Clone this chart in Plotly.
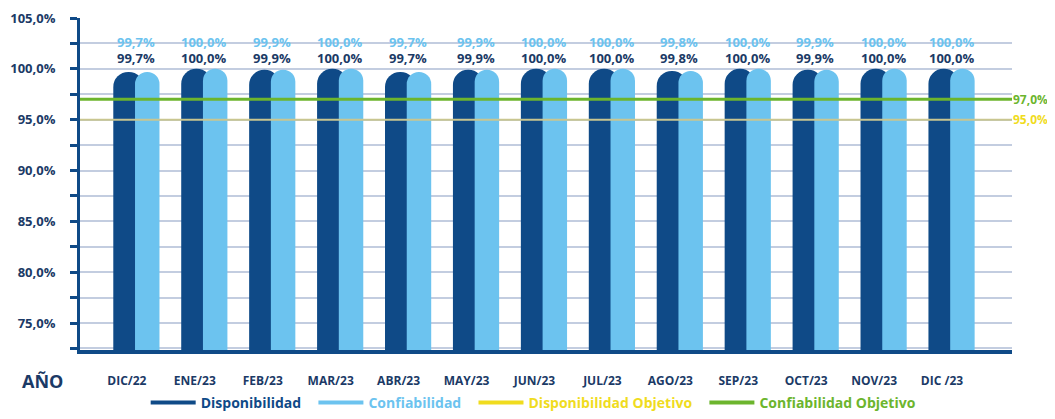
import plotly.graph_objects as go

NAVY = "#0f4a87"
LIGHT = "#6cc3ef"
YELLOW = "#f0dc1e"
YELLOW_LINE = "#c9c690"
GREEN = "#6cb52d"
TEXT = "#1b3a66"
GRID = "#c3cde0"

months = ["DIC/22", "ENE/23", "FEB/23", "MAR/23", "ABR/23", "MAY/23", "JUN/23",
          "JUL/23", "AGO/23", "SEP/23", "OCT/23", "NOV/23", "DIC /23"]
disponibilidad = [99.7, 100.0, 99.9, 100.0, 99.7, 99.9, 100.0, 100.0, 99.8, 100.0, 99.9, 100.0, 100.0]
confiabilidad = [99.7, 100.0, 99.9, 100.0, 99.7, 99.9, 100.0, 100.0, 99.8, 100.0, 99.9, 100.0, 100.0]
y_ticks = [75, 80, 85, 90, 95, 100, 105]
disp_objetivo = 95.0
conf_objetivo = 97.0


def pct(v):
    return f"{v:.1f}%".replace(".", ",")


fig = go.Figure()

fig.add_trace(go.Bar(
    x=months, y=disponibilidad, name="Disponibilidad",
    width=0.45, offset=-0.2,
    marker=dict(color=NAVY, cornerradius="50%", line_width=0),
    showlegend=False,
))
fig.add_trace(go.Bar(
    x=months, y=confiabilidad, name="Confiabilidad",
    width=0.36, offset=0.12,
    marker=dict(color=LIGHT, cornerradius="50%", line_width=0),
    showlegend=False,
))

# target lines
fig.add_hline(y=conf_objetivo, line=dict(color=GREEN, width=3))
fig.add_hline(y=disp_objetivo, line=dict(color=YELLOW_LINE, width=2))
fig.add_annotation(x=1, xref="paper", xanchor="left", xshift=0, y=conf_objetivo,
                   text=pct(conf_objetivo), showarrow=False, borderpad=0,
                   font=dict(color=GREEN, size=12, family="Open Sans", weight="bold"))
fig.add_annotation(x=1, xref="paper", xanchor="left", xshift=0, y=disp_objetivo,
                   text=pct(disp_objetivo), showarrow=False, borderpad=0,
                   font=dict(color=YELLOW, size=12, family="Open Sans", weight="bold"))

# legend entries
for name, color in [("Disponibilidad", NAVY), ("Confiabilidad", LIGHT),
                    ("Disponibilidad Objetivo", YELLOW),
                    ("Confiabilidad Objetivo", GREEN)]:
    fig.add_trace(go.Scatter(
        x=[None], y=[None], mode="lines", line=dict(color=color, width=4),
        name=f"<span style='color:{color}'>{name}</span>&nbsp;&nbsp;",
    ))

# value labels
for m, d, c in zip(months, disponibilidad, confiabilidad):
    fig.add_annotation(x=m, y=102.65, text=pct(c), showarrow=False, xshift=9,
                       font=dict(color=LIGHT, size=13, family="Open Sans", weight="bold"))
    fig.add_annotation(x=m, y=101.05, text=pct(d), showarrow=False, xshift=9,
                       font=dict(color=TEXT, size=13, family="Open Sans", weight="bold"))

fig.add_annotation(
    x=0, xref="paper", xshift=-15, y=-0.093, yref="paper",
    xanchor="right", yanchor="middle", text="AÑO", showarrow=False,
    font=dict(color=TEXT, size=18, family="Open Sans", weight="bold"))

fig.update_layout(
    width=1047, height=411,
    barmode="overlay",
    paper_bgcolor="white",
    plot_bgcolor="white",
    margin=dict(l=72, r=43, t=10, b=69),
    font=dict(family="Open Sans", color=TEXT),
    xaxis=dict(
        range=[-0.69, 13.03],
        automargin=False,
        showgrid=False,
        showline=True, linecolor=NAVY, linewidth=4,
        ticks="", ticklabelstandoff=17,
        tickfont=dict(size=12, color=TEXT, weight="bold"),
    ),
    yaxis=dict(
        range=[72.35, 105],
        automargin=False,
        tickvals=y_ticks,
        ticktext=[pct(v) for v in y_ticks],
        showgrid=True, gridcolor=GRID, gridwidth=1.5,
        showline=True, linecolor=NAVY, linewidth=3,
        ticks="outside", ticklen=7, tickwidth=3, tickcolor=NAVY,
        ticklabelstandoff=12,
        tickfont=dict(size=13, color=TEXT, weight="bold"),
        minor=dict(dtick=2.5, showgrid=True, gridcolor=GRID, gridwidth=1.5,
                   ticks="outside", ticklen=7, tickwidth=3, tickcolor=NAVY),
        zeroline=False,
    ),
    legend=dict(
        orientation="h", x=0.49, xanchor="center",
        yref="container", y=-0.018, yanchor="bottom",
        font=dict(size=14, weight="bold"), itemwidth=45,
        bgcolor="rgba(0,0,0,0)",
    ),
)

fig.write_html("out.html")
